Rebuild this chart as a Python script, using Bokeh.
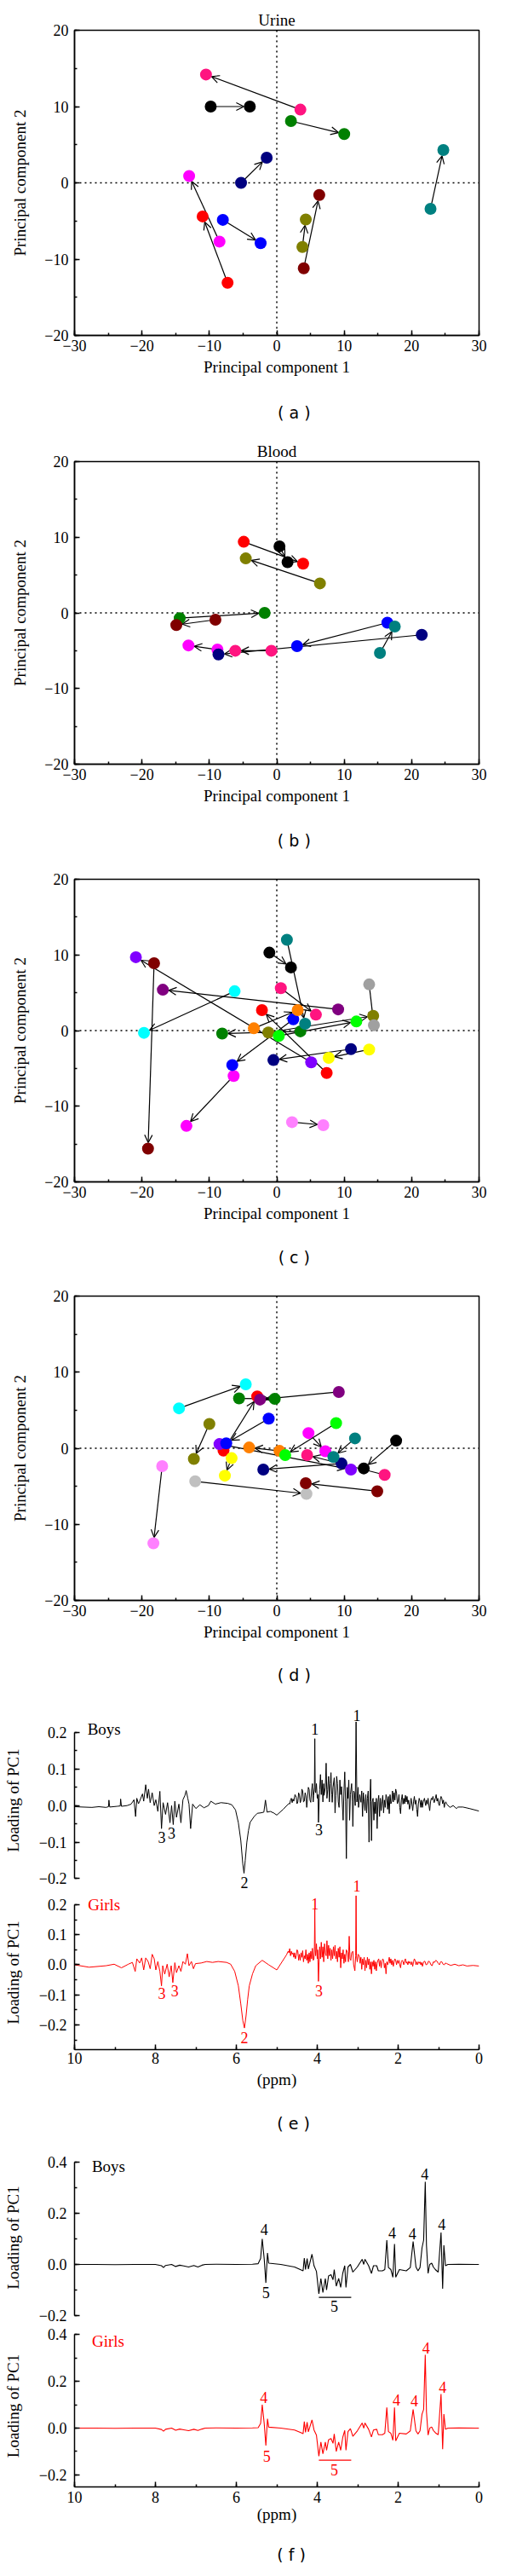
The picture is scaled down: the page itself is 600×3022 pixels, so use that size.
import math
from bokeh.plotting import figure
from bokeh.models import (Range1d, LinearAxis, SingleIntervalTicker, FixedTicker,
                          CustomJSTickFormatter, Span, Arrow, OpenHead, ColumnDataSource, Label)
from bokeh.layouts import column
from bokeh.embed import file_html
from bokeh.resources import INLINE

SERIF = "Liberation Serif"
SANS = "DejaVu Sans"
RED = "#FF0000"

# ---------------- (a) Urine ----------------
A_COLORS = ["#FF1480", "#000000", "#008000", "#008080", "#000080",
            "#FF00FF", "#FF0000", "#0000FF", "#808000", "#800000"]
A_X0 = [3.5, -9.8, 2.1, 22.8, -5.3, -8.5, -7.3, -8.0, 3.8, 4.0]
A_Y0 = [9.6, 10.0, 8.1, -3.4, 0.0, -7.7, -13.1, -4.85, -8.4, -11.2]
A_X1 = [-10.5, -4.0, 10.0, 24.7, -1.5, -13.0, -11.0, -2.4, 4.3, 6.3]
A_Y1 = [14.2, 10.0, 6.4, 4.3, 3.3, 0.9, -4.4, -7.9, -4.8, -1.6]

# ---------------- (b) Blood ----------------
B_COLORS = ["#FF0000", "#000000", "#808000", "#008000", "#800000",
            "#FF00FF", "#FF1480", "#000080", "#0000FF", "#008080"]
B_X0 = [-4.9, 0.4, 6.4, -14.4, -9.1, -8.8, -0.8, 21.5, 16.4, 15.3]
B_Y0 = [9.4, 8.8, 3.9, -0.7, -0.9, -4.85, -5.0, -2.9, -1.3, -5.3]
B_X1 = [3.9, 1.6, -4.6, -1.8, -14.9, -13.1, -6.15, -8.65, 3.0, 17.5]
B_Y1 = [6.5, 6.7, 7.2, 0.0, -1.6, -4.3, -5.0, -5.5, -4.4, -1.8]

# ---------------- (c) ----------------
C_COLORS = ["#008080", "#000000", "#8000FF", "#800000", "#800080", "#00FFFF",
            "#FF1480", "#FF0000", "#FF8000", "#0000FF", "#808000", "#A0A0A0",
            "#00FF00", "#008000", "#000080", "#FFFF00", "#FF00FF", "#FF80FF"]
C_X0 = [1.5, -1.1, 5.1, -18.2, 9.1, -6.25, 0.6, 7.4, -3.4, 2.45, -1.25, 13.7,
        0.3, 3.5, 11.0, 13.7, -6.4, 2.26]
C_Y0 = [12.0, 10.3, -4.2, 8.9, 2.8, 5.2, 5.6, -5.6, 0.3, 1.5, -0.25, 6.1,
        -0.7, -0.1, -2.45, -2.5, -6.0, -12.1]
C_X1 = [4.2, 2.1, -20.9, -19.1, -16.9, -19.7, 5.8, -2.2, 3.1, -6.6, 14.3, 14.4,
        11.8, -8.1, -0.5, 7.7, -13.4, 6.9]
C_Y1 = [0.9, 8.35, 9.7, -15.6, 5.4, -0.3, 2.1, 2.7, 2.7, -4.55, 1.95, 0.7,
        1.2, -0.4, -3.9, -3.6, -12.6, -12.5]

# ---------------- (d) ----------------
D_COLORS = ["#00FFFF", "#008000", "#FF0000", "#800080", "#0000FF", "#808000",
            "#8000FF", "#FF8000", "#00FF00", "#FF00FF", "#008080", "#FF1480",
            "#000080", "#000000", "#FFFF00", "#FF80FF", "#C0C0C0", "#800000"]
D_X0 = [-14.5, -5.6, -7.9, 9.2, -1.2, -10.0, -8.5, 0.4, 8.8, 4.7, 11.6, 16.0,
        9.6, 17.7, -6.7, -17.0, -12.1, 14.9]
D_Y0 = [5.25, 6.55, -0.3, 7.4, 3.9, 3.2, 0.55, -0.35, 3.3, 2.0, 1.3, -3.5,
        -2.0, 1.0, -1.3, -2.35, -4.35, -5.65]
D_X1 = [-4.6, -0.3, -2.9, -2.5, -7.5, -12.3, 11.0, -4.1, 1.25, 7.2, 8.4, 4.5,
        -2.0, 12.9, -7.7, -18.3, 4.4, 4.3]
D_Y1 = [8.4, 6.5, 6.8, 6.4, 0.65, -1.4, -2.8, 0.1, -0.9, -0.4, -1.15, -0.9,
        -2.8, -2.65, -3.6, -12.5, -6.0, -4.6]

# ---------------- (e) loadings: (ppm, loading of PC1) ----------------
E_BOYS = [
    (10.00, -0.003), (9.80, -0.004), (9.57, -0.005), (9.40, -0.003), (9.22, -0.005), (9.16, -0.003),
    (9.15, 0.015), (9.13, -0.004), (8.95, -0.002), (8.87, -0.001), (8.86, 0.018), (8.84, -0.002),
    (8.70, 0.000), (8.60, 0.004), (8.53, 0.016), (8.49, -0.030), (8.46, 0.020), (8.42, 0.005),
    (8.39, 0.012), (8.32, 0.032), (8.29, 0.012), (8.24, 0.057), (8.20, 0.020), (8.17, 0.045),
    (8.13, 0.008), (8.08, 0.035), (8.03, 0.000), (7.99, 0.016), (7.94, -0.016), (7.89, 0.039),
    (7.85, -0.063), (7.81, 0.008), (7.75, -0.024), (7.70, 0.008), (7.64, -0.047), (7.60, 0.000),
    (7.56, -0.052), (7.52, 0.012), (7.48, -0.032), (7.42, 0.004), (7.37, -0.047), (7.32, 0.016),
    (7.27, 0.028), (7.24, 0.041), (7.20, 0.020), (7.17, 0.004), (7.13, -0.063), (7.08, 0.004),
    (7.00, -0.008), (6.90, 0.002), (6.80, -0.006), (6.69, 0.000), (6.63, 0.012), (6.52, 0.004),
    (6.38, 0.008), (6.21, 0.006), (6.11, 0.002), (6.02, -0.012), (5.95, -0.047), (5.89, -0.095),
    (5.84, -0.160), (5.81, -0.185), (5.78, -0.150), (5.74, -0.100), (5.70, -0.068), (5.66, -0.046),
    (5.56, -0.030), (5.48, -0.021), (5.40, -0.020), (5.32, -0.018), (5.28, 0.015), (5.24, -0.018),
    (5.16, -0.016), (5.08, -0.020), (5.00, -0.026), (4.84, -0.010), (4.70, 0.006), (4.68, 0.004),
    (4.66, 0.015), (4.64, 0.020), (4.62, 0.008), (4.60, 0.018), (4.58, 0.012), (4.55, 0.030),
    (4.52, 0.023), (4.50, 0.005), (4.48, 0.010), (4.46, 0.035), (4.44, 0.028), (4.42, 0.008),
    (4.40, 0.015), (4.38, 0.045), (4.36, 0.040), (4.34, 0.010), (4.32, 0.012), (4.30, 0.035),
    (4.28, 0.028), (4.26, -0.005), (4.24, 0.018), (4.22, 0.050), (4.20, 0.044), (4.18, 0.015),
    (4.16, 0.009), (4.14, 0.040), (4.12, 0.060), (4.10, 0.010), (4.09, 0.028), (4.07, 0.050),
    (4.06, 0.183), (4.05, 0.040), (4.04, 0.035), (4.02, 0.060), (4.00, 0.020), (3.98, 0.030),
    (3.97, -0.046), (3.95, 0.020), (3.94, 0.044), (3.92, 0.085), (3.90, 0.030), (3.88, 0.070),
    (3.86, 0.010), (3.84, 0.060), (3.83, 0.028), (3.80, 0.050), (3.78, 0.116), (3.76, 0.020),
    (3.74, 0.044), (3.72, 0.080), (3.70, 0.010), (3.68, 0.060), (3.66, 0.090), (3.64, 0.030),
    (3.63, 0.009), (3.61, 0.050), (3.58, 0.076), (3.56, -0.020), (3.54, 0.028), (3.52, 0.080),
    (3.50, 0.060), (3.48, 0.010), (3.46, -0.005), (3.44, 0.070), (3.42, 0.030), (3.40, 0.052),
    (3.38, 0.005), (3.36, -0.040), (3.34, 0.040), (3.32, 0.092), (3.30, 0.010), (3.28, -0.145),
    (3.26, 0.050), (3.24, 0.020), (3.22, 0.070), (3.20, -0.040), (3.18, 0.030), (3.15, 0.060),
    (3.13, 0.010), (3.12, -0.057), (3.10, 0.040), (3.08, 0.035), (3.06, 0.000), (3.04, 0.229),
    (3.02, 0.010), (3.01, 0.020), (2.99, 0.050), (2.98, -0.005), (2.95, 0.030), (2.92, 0.009),
    (2.90, 0.040), (2.88, -0.030), (2.86, 0.035), (2.84, 0.010), (2.82, -0.014), (2.80, 0.030),
    (2.78, -0.020), (2.76, 0.020), (2.74, 0.040), (2.72, -0.100), (2.70, 0.010), (2.68, 0.072),
    (2.67, 0.010), (2.66, -0.096), (2.64, 0.010), (2.62, 0.020), (2.60, -0.040), (2.58, 0.010),
    (2.56, -0.022), (2.54, 0.020), (2.52, -0.063), (2.50, 0.010), (2.48, 0.028), (2.46, -0.030),
    (2.44, 0.020), (2.42, -0.014), (2.40, 0.010), (2.38, 0.028), (2.36, -0.020), (2.34, 0.015),
    (2.32, -0.005), (2.30, 0.030), (2.28, 0.020), (2.26, -0.010), (2.24, 0.025), (2.22, -0.022),
    (2.20, 0.030), (2.18, 0.005), (2.16, 0.012), (2.14, 0.040), (2.12, 0.010), (2.10, 0.035),
    (2.08, 0.015), (2.06, 0.045), (2.04, 0.035), (2.02, 0.005), (2.00, 0.012), (1.98, 0.030),
    (1.96, -0.005), (1.94, -0.022), (1.92, 0.015), (1.90, 0.030), (1.88, 0.004), (1.86, 0.020),
    (1.84, 0.005), (1.82, 0.028), (1.80, 0.010), (1.78, 0.025), (1.76, 0.004), (1.74, 0.015),
    (1.72, -0.010), (1.70, 0.000), (1.68, 0.020), (1.66, 0.005), (1.64, -0.014), (1.62, 0.010),
    (1.60, 0.025), (1.58, 0.004), (1.56, 0.015), (1.54, -0.010), (1.52, -0.030), (1.50, 0.005),
    (1.48, 0.020), (1.46, 0.012), (1.44, -0.005), (1.42, 0.015), (1.40, -0.005), (1.38, 0.010),
    (1.35, 0.020), (1.32, 0.000), (1.30, 0.015), (1.28, 0.004), (1.26, 0.020), (1.24, 0.000),
    (1.22, -0.014), (1.20, 0.010), (1.18, 0.020), (1.16, 0.016), (1.14, 0.025), (1.11, 0.008),
    (1.08, 0.020), (1.06, 0.030), (1.04, 0.012), (1.02, 0.020), (1.00, 0.005), (0.98, 0.000),
    (0.96, 0.015), (0.94, 0.025), (0.92, 0.020), (0.90, 0.005), (0.88, 0.015), (0.86, -0.005),
    (0.84, 0.008), (0.82, 0.010), (0.80, 0.004), (0.72, -0.005), (0.64, 0.000), (0.56, -0.008),
    (0.52, -0.004), (0.40, -0.004), (0.24, -0.008), (0.00, -0.015)]

E_GIRLS = [
    (10.00, 0.000), (9.64, -0.008), (9.22, -0.003), (9.02, 0.002), (8.84, -0.010), (8.67, 0.002),
    (8.57, 0.008), (8.50, -0.022), (8.46, 0.020), (8.39, 0.006), (8.34, 0.023), (8.29, -0.017),
    (8.24, 0.023), (8.18, 0.011), (8.13, -0.013), (8.08, 0.035), (8.03, 0.020), (7.99, -0.017),
    (7.94, 0.011), (7.89, -0.022), (7.85, -0.070), (7.82, -0.003), (7.77, -0.031), (7.71, 0.002),
    (7.66, -0.040), (7.61, -0.003), (7.57, -0.059), (7.52, 0.007), (7.48, -0.026), (7.42, -0.003),
    (7.37, -0.022), (7.32, 0.011), (7.26, 0.002), (7.21, 0.037), (7.17, -0.003), (7.11, 0.011),
    (7.06, -0.013), (7.01, 0.004), (6.87, 0.006), (6.73, 0.011), (6.59, 0.008), (6.45, 0.011),
    (6.24, 0.008), (6.14, 0.002), (6.04, -0.022), (5.95, -0.070), (5.89, -0.130), (5.84, -0.185),
    (5.80, -0.210), (5.76, -0.170), (5.72, -0.115), (5.68, -0.070), (5.60, -0.030), (5.52, -0.003),
    (5.36, 0.015), (5.20, 0.000), (5.00, -0.017), (4.76, 0.033), (4.72, 0.045), (4.70, 0.040),
    (4.68, 0.054), (4.66, 0.030), (4.64, 0.045), (4.62, 0.035), (4.60, 0.040), (4.58, 0.025),
    (4.56, 0.040), (4.54, 0.020), (4.52, 0.030), (4.50, 0.050), (4.48, 0.045), (4.46, 0.015),
    (4.44, 0.035), (4.42, 0.015), (4.40, 0.040), (4.38, 0.025), (4.36, 0.047), (4.34, 0.010),
    (4.32, 0.030), (4.30, 0.020), (4.28, 0.050), (4.26, 0.015), (4.24, 0.035), (4.22, 0.005),
    (4.20, 0.040), (4.18, 0.010), (4.16, 0.045), (4.14, 0.020), (4.12, 0.055), (4.10, 0.015),
    (4.08, 0.020), (4.07, 0.060), (4.06, 0.185), (4.05, 0.050), (4.04, 0.030), (4.02, 0.070),
    (4.00, 0.020), (3.99, 0.050), (3.97, -0.055), (3.95, 0.030), (3.94, 0.060), (3.92, 0.020),
    (3.90, 0.075), (3.88, 0.025), (3.86, 0.060), (3.84, 0.010), (3.82, 0.070), (3.80, 0.040),
    (3.78, 0.030), (3.76, 0.080), (3.74, 0.020), (3.72, 0.065), (3.70, 0.030), (3.68, 0.055),
    (3.66, 0.015), (3.64, 0.050), (3.62, 0.020), (3.60, 0.060), (3.58, 0.030), (3.56, 0.065),
    (3.54, 0.020), (3.52, 0.045), (3.50, 0.010), (3.48, 0.055), (3.46, 0.025), (3.44, 0.060),
    (3.42, -0.010), (3.40, 0.040), (3.38, 0.020), (3.36, 0.050), (3.34, 0.005), (3.32, 0.035),
    (3.30, 0.010), (3.28, 0.050), (3.25, 0.040), (3.23, 0.010), (3.21, 0.095), (3.19, 0.020),
    (3.17, 0.015), (3.15, 0.040), (3.12, 0.045), (3.10, 0.000), (3.07, -0.020), (3.05, 0.030),
    (3.04, 0.230), (3.03, 0.030), (3.01, 0.010), (2.99, 0.035), (2.96, 0.030), (2.94, 0.005),
    (2.92, 0.025), (2.90, -0.015), (2.88, 0.020), (2.86, 0.000), (2.84, 0.025), (2.82, -0.020),
    (2.80, 0.015), (2.78, -0.010), (2.76, 0.025), (2.74, 0.000), (2.72, 0.020), (2.70, -0.015),
    (2.68, 0.010), (2.66, -0.030), (2.64, 0.010), (2.62, -0.005), (2.60, 0.015), (2.58, -0.015),
    (2.56, 0.010), (2.54, -0.020), (2.52, 0.005), (2.50, 0.015), (2.48, 0.020), (2.46, -0.005),
    (2.44, 0.015), (2.42, -0.010), (2.40, 0.010), (2.38, 0.020), (2.36, 0.015), (2.34, -0.010),
    (2.32, 0.005), (2.30, -0.030), (2.28, 0.010), (2.26, 0.000), (2.24, 0.010), (2.22, 0.025),
    (2.20, 0.005), (2.18, 0.020), (2.16, 0.000), (2.14, 0.015), (2.12, -0.005), (2.10, 0.010),
    (2.08, 0.020), (2.06, 0.015), (2.04, 0.000), (2.02, 0.015), (2.00, 0.005), (1.98, 0.015),
    (1.96, 0.000), (1.94, -0.010), (1.92, 0.010), (1.90, 0.015), (1.88, 0.010), (1.86, 0.000),
    (1.84, 0.015), (1.82, 0.020), (1.80, 0.005), (1.78, 0.010), (1.76, 0.000), (1.74, 0.012),
    (1.72, 0.005), (1.70, 0.010), (1.68, 0.000), (1.66, 0.010), (1.64, -0.005), (1.62, 0.010),
    (1.60, 0.020), (1.58, 0.015), (1.56, 0.000), (1.54, 0.010), (1.52, 0.000), (1.50, 0.010),
    (1.48, 0.005), (1.46, 0.010), (1.44, 0.000), (1.42, 0.008), (1.40, -0.005), (1.37, 0.010),
    (1.34, 0.012), (1.31, 0.000), (1.28, 0.002), (1.25, 0.012), (1.22, 0.010), (1.19, 0.000),
    (1.16, -0.003), (1.13, 0.010), (1.10, 0.008), (1.07, 0.015), (1.04, 0.012), (1.01, 0.005),
    (0.98, 0.000), (0.95, 0.010), (0.92, 0.010), (0.89, 0.002), (0.86, 0.000), (0.83, 0.006),
    (0.80, 0.004), (0.70, -0.002), (0.60, 0.002), (0.50, -0.003), (0.40, 0.000), (0.30, -0.004),
    (0.15, -0.002), (0.00, -0.004)]

# ---------------- (f) loadings ----------------
F_PPM = [10.00, 9.50, 9.00, 8.50, 8.00, 7.85, 7.80, 7.75, 7.60, 7.50, 7.40, 7.30, 7.18, 7.05,
         6.95, 6.85, 6.77, 6.50, 6.00, 5.60, 5.46, 5.40, 5.36, 5.31, 5.27, 5.23, 5.20, 4.90,
         4.56, 4.42, 4.35, 4.32, 4.29, 4.25, 4.22, 4.13, 4.08, 4.02, 3.96, 3.91, 3.86, 3.80,
         3.77, 3.72, 3.66, 3.61, 3.58, 3.53, 3.47, 3.42, 3.37, 3.32, 3.29, 3.24, 3.18, 3.12,
         3.01, 2.89, 2.85, 2.82, 2.73, 2.66, 2.61, 2.53, 2.49, 2.39, 2.33, 2.28, 2.24, 2.18,
         2.13, 2.09, 2.06, 1.97, 1.80, 1.70, 1.63, 1.56, 1.51, 1.46, 1.41, 1.37, 1.33, 1.30,
         1.26, 1.22, 1.17, 1.13, 1.08, 1.01, 0.94, 0.90, 0.87, 0.83, 0.77, 0.50, 0.08, 0.00]
F_BOYS_VAL = [0.000, 0.000, -0.001, 0.000, 0.000, -0.005, -0.012, -0.004, 0.000, -0.008, -0.003, -0.006, -0.010, -0.004,
              -0.010, -0.003, 0.000, 0.001, 0.000, 0.001, 0.003, 0.023, 0.100, 0.020, -0.072, 0.045, 0.005, 0.000,
              -0.010, -0.020, -0.025, 0.025, -0.020, 0.023, -0.018, 0.040, -0.005, -0.027, -0.115, -0.055, -0.110, -0.055,
              -0.100, -0.045, -0.040, -0.060, -0.020, -0.085, -0.055, -0.090, -0.035, -0.005, -0.090, -0.010, 0.000, -0.030,
              -0.010, 0.020, 0.000, 0.020, -0.005, -0.035, -0.005, -0.005, -0.025, -0.025, -0.020, 0.095, -0.012, -0.020,
              -0.050, 0.080, -0.050, -0.020, -0.025, -0.012, 0.090, -0.010, -0.025, -0.012, 0.065, 0.095, 0.323, 0.075,
              -0.035, 0.000, 0.005, -0.010, -0.020, -0.030, 0.125, -0.095, 0.075, -0.005, 0.000, 0.001, 0.000, 0.000]
F_GIRLS_VAL = [0.000, 0.000, -0.001, 0.000, 0.000, -0.006, -0.013, -0.005, 0.000, -0.009, -0.004, -0.007, -0.011, -0.005,
               -0.010, -0.004, 0.000, 0.001, 0.000, 0.001, 0.002, 0.020, 0.100, 0.018, -0.075, 0.040, 0.004, 0.000,
               -0.008, -0.018, -0.024, 0.028, -0.018, 0.025, -0.016, 0.035, -0.008, -0.030, -0.120, -0.060, -0.110, -0.060,
               -0.095, -0.050, -0.045, -0.065, -0.025, -0.100, -0.060, -0.095, -0.040, -0.010, -0.095, -0.015, -0.002, -0.035,
               -0.012, 0.022, 0.000, 0.022, -0.005, -0.038, -0.008, -0.005, -0.028, -0.028, -0.022, 0.088, -0.015, -0.022,
               -0.052, 0.088, -0.055, -0.022, -0.025, -0.012, 0.080, -0.012, -0.025, -0.012, 0.060, 0.080, 0.314, 0.070,
               -0.030, 0.000, 0.005, -0.010, -0.020, -0.028, 0.146, -0.090, 0.060, -0.005, 0.000, 0.001, 0.000, 0.000]

# peak annotations (ppm, loading, text)
E_BOYS_NOTES = [(4.06, 0.209, "1"), (3.02, 0.246, "1"), (7.84, -0.087, "3"), (7.60, -0.075, "3"),
                (3.96, -0.066, "3"), (5.80, -0.210, "2")]
E_GIRLS_NOTES_TOP = [(3.02, 0.262, "1")]
E_GIRLS_NOTES = [(4.06, 0.2025, "1"), (7.84, -0.095, "3"), (7.52, -0.086, "3"),
                 (3.96, -0.085, "3"), (5.80, -0.241, "2")]
F_BOYS_NOTES = [(5.31, 0.138, "4"), (5.27, -0.110, "5"), (2.15, 0.124, "4"), (1.65, 0.120, "4"),
                (1.34, 0.353, "4"), (0.92, 0.158, "4"), (3.58, -0.163, "5")]
F_GIRLS_NOTES = [(5.32, 0.131, "4"), (5.25, -0.120, "5"), (2.04, 0.120, "4"), (1.60, 0.117, "4"),
                 (1.31, 0.344, "4"), (0.90, 0.175, "4"), (3.58, -0.179, "5")]
BAR_PPM = [3.96, 3.16]
F_BOYS_BAR = [-0.129, -0.129]
F_GIRLS_BAR = [-0.137, -0.137]


def fmt(decimals):
    return CustomJSTickFormatter(
        code=f"return (tick < -1e-9 ? '\\u2212' : '') + Math.abs(tick).toFixed({decimals});")


def style_axis(ax, label, decimals, interval, label_standoff, tick_standoff):
    ax.ticker = SingleIntervalTicker(interval=interval, num_minor_ticks=2)
    ax.formatter = fmt(decimals)
    ax.axis_label = label
    ax.axis_label_text_font = SERIF
    ax.axis_label_text_font_size = "19px"
    ax.axis_label_text_font_style = "normal"
    ax.axis_label_text_color = "black"
    ax.axis_label_standoff = label_standoff
    ax.major_label_text_font = SERIF
    ax.major_label_text_font_size = "18px"
    ax.major_label_text_color = "black"
    ax.major_label_standoff = tick_standoff
    ax.major_tick_in = 6
    ax.major_tick_out = 0
    ax.minor_tick_in = 3
    ax.minor_tick_out = 0
    ax.axis_line_width = 1.5
    ax.major_tick_line_width = 1.5
    ax.minor_tick_line_width = 1.5
    ax.axis_line_color = "black"
    ax.major_tick_line_color = "black"
    ax.minor_tick_line_color = "black"


def text_label(p, x, y, text, size="18px", color="black", font=SERIF, align="center", **kw):
    p.add_layout(Label(x=x, y=y, text=text, text_align=align, text_baseline="middle",
                       text_font=font, text_font_size=size, text_color=color, **kw))


def title_axis(p, text):
    ax = LinearAxis(ticker=FixedTicker(ticks=[], minor_ticks=[]), axis_label=text)
    ax.axis_line_color = None
    ax.major_tick_line_color = None
    ax.minor_tick_line_color = None
    ax.major_tick_in = 0
    ax.major_tick_out = 0
    ax.minor_tick_in = 0
    ax.minor_tick_out = 0
    ax.major_label_standoff = 0
    ax.axis_label_standoff = 2
    ax.axis_label_text_font = SERIF
    ax.axis_label_text_font_size = "19px"
    ax.axis_label_text_font_style = "normal"
    ax.axis_label_text_color = "black"
    p.add_layout(ax, "above")


def text_fig(height, from_top, text, x_page):
    p = figure(width=584, height=height, x_range=Range1d(0, 584), y_range=Range1d(0, height),
               x_axis_location=None, y_axis_location=None, min_border=0,
               toolbar_location=None, output_backend="svg")
    p.outline_line_color = None
    p.grid.grid_line_color = None
    text_label(p, x_page - 8, height - from_top, text, size="19px", font=SANS)
    return p


FRAME_W = 480
R_MARK = 7


def scatter_panel(height, top, frame_h, bottom, colors, x0, y0, x1, y1, title):
    p = figure(width=584, height=height, x_range=Range1d(-30, 30), y_range=Range1d(-20, 20),
               min_border_left=82, min_border_right=584 - 82 - FRAME_W,
               min_border_top=top, min_border_bottom=bottom,
               toolbar_location=None, output_backend="svg")
    p.grid.grid_line_color = None
    p.outline_line_color = "black"
    p.outline_line_width = 1.5
    p.outline_line_alpha = 1.0
    style_axis(p.xaxis[0], "Principal component 1", 0, 10, 5, 5)
    style_axis(p.yaxis[0], "Principal component 2", 0, 10, 15, 7)
    if title:
        title_axis(p, title)

    for dim in ("width", "height"):
        p.add_layout(Span(location=0, dimension=dim, line_color="black", line_width=1.5,
                          line_dash="2 4", level="underlay"))

    sx = FRAME_W / 60.0
    sy = frame_h / 40.0
    xe, ye = [], []
    for a, b, c, d in zip(x0, y0, x1, y1):
        dxp, dyp = (c - a) * sx, (d - b) * sy
        L = math.hypot(dxp, dyp) or 1.0
        xe.append(c - dxp / L * R_MARK / sx)
        ye.append(d - dyp / L * R_MARK / sy)
    src = ColumnDataSource(dict(xs=x0, ys=y0, xe=xe, ye=ye))
    p.add_layout(Arrow(end=OpenHead(size=9, line_width=1.2, line_color="black"),
                       source=src, x_start="xs", y_start="ys", x_end="xe", y_end="ye",
                       line_width=1.2, line_color="black", level="underlay"))
    pts = ColumnDataSource(dict(x=list(x0) + list(x1), y=list(y0) + list(y1),
                                c=list(colors) + list(colors)))
    p.scatter("x", "y", source=pts, size=14, fill_color="c", line_color=None)
    return p


def spec_fig(height, top, bottom, frame_left, frame_w, yrange, bounds, interval, with_x,
             x_standoffs=(3, 4)):
    p = figure(width=584, height=height, x_range=Range1d(10, 0), y_range=Range1d(*yrange),
               x_axis_location="below" if with_x else None,
               min_border_left=frame_left - 8, min_border_right=584 - (frame_left - 8) - frame_w,
               min_border_top=top, min_border_bottom=bottom,
               toolbar_location=None, output_backend="svg")
    p.grid.grid_line_color = None
    p.outline_line_color = None
    ay = p.yaxis[0]
    style_axis(ay, "Loading of PC1", 1, interval, 17, 9)
    ay.bounds = bounds
    if with_x:
        style_axis(p.xaxis[0], "(ppm)", 0, 2, x_standoffs[1], x_standoffs[0])
    return p


def add_notes(p, notes, color, **kw):
    for (x, y, t) in notes:
        text_label(p, x, y, t, color=color, **kw)


# ---------------- scatter panels ----------------
pa = scatter_panel(454, 35, 358, 61, A_COLORS, A_X0, A_Y0, A_X1, A_Y1, "Urine")
la = text_fig(58, 29, "( a )", 325)
pb = scatter_panel(442, 29, 355, 58, B_COLORS, B_X0, B_Y0, B_X1, B_Y1, "Blood")
lb = text_fig(58, 31, "( b )", 325)
pc = scatter_panel(432, 19, 355, 58, C_COLORS, C_X0, C_Y0, C_X1, C_Y1, None)
lc = text_fig(58, 30, "( c )", 325)
pd = scatter_panel(433, 18, 357, 58, D_COLORS, D_X0, D_Y0, D_X1, D_Y1, None)
ld = text_fig(52, 29, "( d )", 325)

# ---------------- (e) ----------------
eb_x = [a for a, _ in E_BOYS]
eb_y = [b for _, b in E_BOYS]
eg_x = [a for a, _ in E_GIRLS]
eg_y = [b for _, b in E_GIRLS]

e1 = spec_fig(236, 13, 0, 95, 482, (-0.2455, 0.2744), (-0.2, 0.2), 0.1, False)
e1.extra_y_ranges = {"girls": Range1d(0.2309, 0.8626)}
e1.line(eb_x, eb_y, line_color="black", line_width=1.0)
add_notes(e1, E_BOYS_NOTES, "black")
add_notes(e1, E_GIRLS_NOTES_TOP, RED, y_range_name="girls")
text_label(e1, 9.68, 0.209, "Boys", size="19px", align="left")

e2 = spec_fig(234, 0, 53, 95, 482, (-0.2819, 0.2309), (-0.2819, 0.2), 0.1, True, (3, 5))
e2.line(eg_x, eg_y, line_color=RED, line_width=1.0)
add_notes(e2, E_GIRLS_NOTES, RED)
text_label(e2, 9.67, 0.199, "Girls", size="19px", color=RED, align="left")
le = text_fig(57, 33, "( e )", 324)

# ---------------- (f) ----------------
f1 = spec_fig(213, 8, 0, 94, 483, (-0.2367, 0.4467), (-0.2, 0.4), 0.2, False)
f1.line(F_PPM, F_BOYS_VAL, line_color="black", line_width=1.1)
f1.line(BAR_PPM, F_BOYS_BAR, line_color="black", line_width=1.2)
add_notes(f1, F_BOYS_NOTES, "black")
text_label(f1, 9.57, 0.384, "Boys", size="19px", align="left")

f2 = spec_fig(240, 0, 50, 94, 483, (-0.2518, 0.4416), (-0.2518, 0.4), 0.2, True, (5, 0))
f2.line(F_PPM, F_GIRLS_VAL, line_color=RED, line_width=1.1)
f2.line(BAR_PPM, F_GIRLS_BAR, line_color=RED, line_width=1.2)
add_notes(f2, F_GIRLS_NOTES, RED)
text_label(f2, 9.57, 0.372, "Girls", size="19px", color=RED, align="left")
lf = text_fig(39, 29, "( f )", 321)

layout = column(pa, la, pb, lb, pc, lc, pd, ld, e1, e2, le, f1, f2, lf, spacing=0)
open("out.html", "w").write(file_html(layout, INLINE))
